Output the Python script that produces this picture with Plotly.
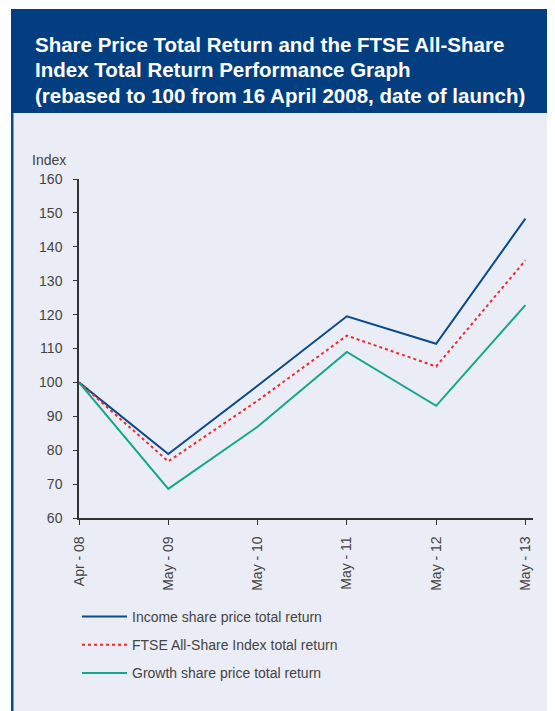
import plotly.graph_objects as go

categories = ["Apr - 08", "May - 09", "May - 10", "May - 11", "May - 12", "May - 13"]
income = [100, 78.9, 99.0, 119.5, 111.4, 148.3]
ftse = [100, 76.7, 94.6, 113.8, 104.7, 136.0]
growth = [100, 68.6, 86.9, 109.0, 93.1, 122.8]
yticks = [60, 70, 80, 90, 100, 110, 120, 130, 140, 150, 160]

W, H = 555, 711
OFF = 8  # page body margin
xpos = list(range(len(categories)))

def px(x):
    return (x - OFF) / W

def py(y):
    return 1 - (y - OFF) / H

fig = go.Figure()
fig.add_trace(go.Scatter(x=xpos, y=income, mode="lines", name="Income share price total return",
                         line=dict(color="#0a4a8a", width=2), legendgroup="a"))
fig.add_trace(go.Scatter(x=xpos, y=ftse, mode="lines", name="FTSE All-Share Index total return",
                         line=dict(color="#ee2b31", width=2, dash="dot"), legendgroup="b"))
fig.add_trace(go.Scatter(x=xpos, y=growth, mode="lines", name="Growth share price total return",
                         line=dict(color="#12a78a", width=2), legendgroup="c"))

shapes = [
    dict(type="rect", xref="paper", yref="paper", x0=px(11), x1=1, y0=py(113), y1=py(9),
         fillcolor="#033f80", line=dict(width=0), layer="below"),
    dict(type="rect", xref="paper", yref="paper", x0=px(11), x1=1, y0=0, y1=py(113),
         fillcolor="#eaedf5", line=dict(width=0), layer="below"),
    dict(type="rect", xref="paper", yref="paper", x0=px(11), x1=px(13.5), y0=0, y1=py(113),
         fillcolor="#0a4a8a", line=dict(width=0), layer="below"),
]

title_lines = ["Share Price Total Return and the FTSE All-Share",
               "Index Total Return Performance Graph",
               "(rebased to 100 from 16 April 2008, date of launch)"]
annotations = []
for i, t in enumerate(title_lines):
    annotations.append(dict(text="<b>" + t + "</b>", xref="paper", yref="paper",
                            x=px(33), y=py(45 + 25 * i), xanchor="left", yanchor="middle",
                            showarrow=False, font=dict(family="Liberation Sans, Arial", size=20.5, color="white")))
annotations.append(dict(text="Index", xref="paper", yref="paper", x=px(30), y=py(160),
                        xanchor="left", yanchor="middle", showarrow=False,
                        font=dict(family="Liberation Sans, Arial", size=14, color="#444")))

fig.update_layout(
    width=W, height=H,
    margin=dict(l=0, r=0, t=0, b=0, pad=0, autoexpand=False),
    paper_bgcolor="white", plot_bgcolor="rgba(0,0,0,0)",
    shapes=shapes, annotations=annotations,
    font=dict(family="Liberation Sans, Arial", size=14, color="#444"),
    showlegend=True,
    legend=dict(x=px(77), y=py(601), xanchor="left", yanchor="top", bgcolor="rgba(0,0,0,0)",
                tracegroupgap=7, itemwidth=45, font=dict(size=14, color="#444")),
    xaxis=dict(domain=[px(79), px(533)], range=[0, 5.085], tickvals=xpos, ticktext=categories,
               tickangle=-90, showgrid=False, zeroline=False, showline=True, linecolor="#333",
               linewidth=1.5, ticks="outside", ticklen=5, tickcolor="#333", ticklabelstandoff=6,
               tickfont=dict(size=14, color="#444")),
    yaxis=dict(domain=[py(518), py(179)], range=[60, 160], tickvals=yticks, showgrid=False,
               zeroline=False, showline=True, linecolor="#333", linewidth=1.5, ticks="outside",
               ticklen=4, tickcolor="#333", ticklabelstandoff=8, tickfont=dict(size=14, color="#444")),
)

fig.write_html("out.html")
